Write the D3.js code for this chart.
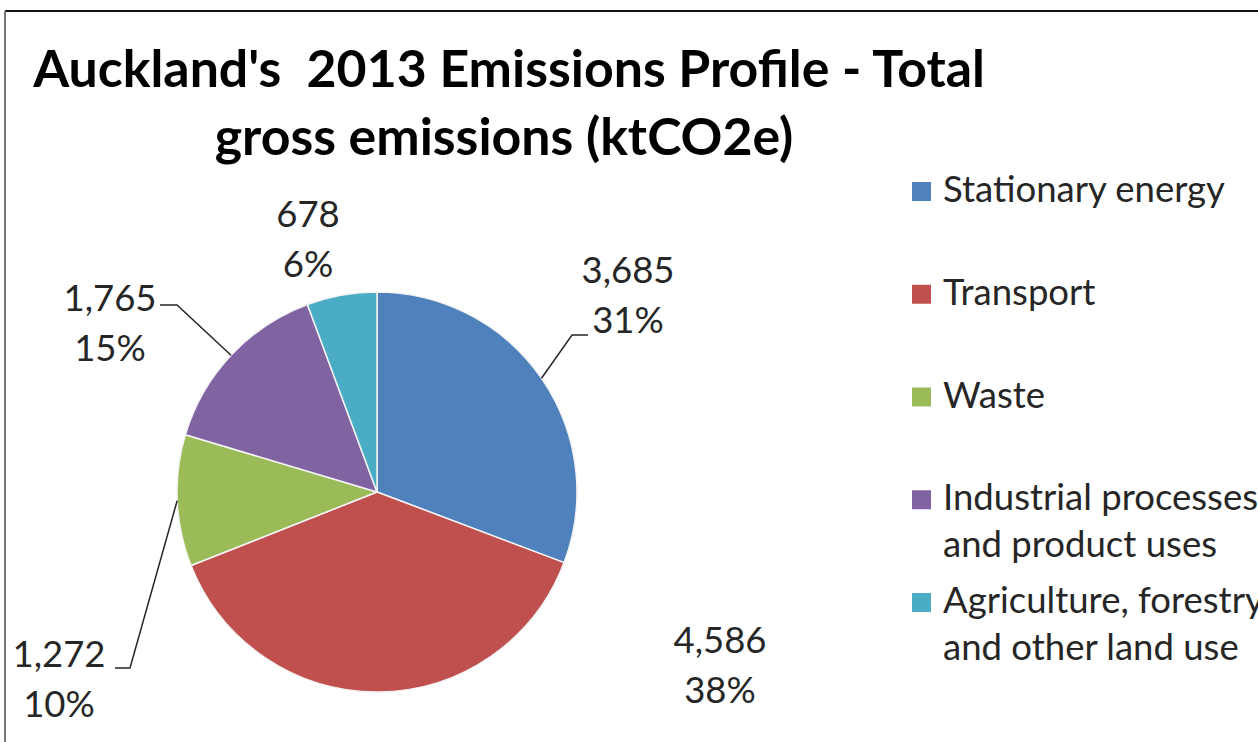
<!DOCTYPE html>
<html>
<head>
<meta charset="utf-8">
<script src="https://cdn.jsdelivr.net/npm/d3@7"></script>
<style>
  html, body { margin: 0; padding: 0; background: #fff; }
  svg { display: block; }
</style>
</head>
<body>
<svg id="chart" width="1258" height="742"></svg>
<script>
// ---- data ----
const categories = [
  "Stationary energy",
  "Transport",
  "Waste",
  "Industrial processes and product uses",
  "Agriculture, forestry and other land use"
];
const values = [3685, 4586, 1272, 1765, 678];
const percentLabels = ["31%", "38%", "10%", "15%", "6%"];
const legendLines = [
  ["Stationary energy"],
  ["Transport"],
  ["Waste"],
  ["Industrial processes", "and product uses"],
  ["Agriculture, forestry", "and other land use"]
];
const titleLines = ["Auckland's  2013 Emissions Profile - Total", "gross emissions (ktCO2e)"];

// ---- styling / layout ----
const colors = ["#4F81BD", "#C0504D", "#9BBB59", "#8064A2", "#4BACC6"];
const W = 1258, H = 742;
const cx = 377, cy = 492, radius = 200;
const fontFamily = "Lato, 'Open Sans', sans-serif";

// label anchor (centre x, first baseline) relative to pie centre, plus leader attach point relative to the label
const labelLayout = [
  { dx: 251, dy: -209, leader: { ex: -56, ey: 52, hx: -40 } },
  { dx: 343, dy: 161, leader: null },
  { dx: -318, dy: 175, leader: { ex: 71, ey: 1, hx: 56 } },
  { dx: -267, dy: -181, leader: { ex: 67, ey: -6, hx: 50 } },
  { dx: -69, dy: -265, leader: null }
];

const svg = d3.select("#chart");

// frame edges
svg.append("line").attr("x1", 5).attr("x2", W).attr("y1", 11).attr("y2", 11)
  .attr("stroke", "#111").attr("stroke-width", 2);
svg.append("line").attr("x1", 5).attr("x2", 5).attr("y1", 11).attr("y2", H)
  .attr("stroke", "#777").attr("stroke-width", 2);

function fitSize(sel, base, target) {
  sel.attr("font-size", base);
  const w = sel.node().getComputedTextLength();
  return base * target / w;
}

// ---- title ----
const t1 = svg.append("text").attr("x", 509).attr("y", 87)
  .attr("text-anchor", "middle").attr("font-family", fontFamily)
  .attr("font-weight", 700).attr("fill", "#000")
  .style("white-space", "pre").text(titleLines[0]);
const titleSize = fitSize(t1, 40, 952);
t1.attr("font-size", titleSize);
svg.append("text").attr("x", 504).attr("y", 155)
  .attr("text-anchor", "middle").attr("font-family", fontFamily)
  .attr("font-weight", 700).attr("fill", "#000")
  .attr("font-size", titleSize).text(titleLines[1]);

// ---- pie ----
const pie = d3.pie().sort(null).value(d => d)(values);
const arc = d3.arc().innerRadius(0).outerRadius(radius);
const g = svg.append("g").attr("transform", `translate(${cx},${cy})`);

g.selectAll("path.slice").data(pie).join("path")
  .attr("class", "slice")
  .attr("d", arc)
  .attr("fill", (d, i) => colors[i])
  .attr("stroke", "#f4f4f4")
  .attr("stroke-width", 1.5)
  .attr("stroke-linejoin", "round");

// ---- data labels ----
const fmt = d3.format(",");
const labelG = g.append("g");
const probe = labelG.append("text").attr("font-family", fontFamily).text(fmt(values[0]));
const labelSize = fitSize(probe, 36, 93);
probe.remove();

pie.forEach((d, i) => {
  const L = labelLayout[i];
  const t = labelG.append("text")
    .attr("text-anchor", "middle")
    .attr("font-family", fontFamily)
    .attr("font-size", labelSize)
    .attr("fill", "#262626");
  t.append("tspan").attr("x", L.dx).attr("y", L.dy).text(fmt(d.value));
  t.append("tspan").attr("x", L.dx).attr("y", L.dy + 50).text(percentLabels[i]);

  if (L.leader) {
    const mid = (d.startAngle + d.endAngle) / 2;
    const sx = Math.sin(mid) * radius, sy = -Math.cos(mid) * radius;
    const ex = L.dx + L.leader.ex, ey = L.dy + L.leader.ey;
    const hx = L.dx + L.leader.hx;
    labelG.append("path")
      .attr("d", d3.line()([[sx, sy], [ex, ey], [hx, ey]]))
      .attr("fill", "none")
      .attr("stroke", "#262626")
      .attr("stroke-width", 1.5);
  }
});

// ---- legend ----
const legend = svg.append("g").attr("transform", "translate(912,202)");
const lp = legend.append("text").attr("font-family", fontFamily).text(legendLines[0][0]);
const legendSize = fitSize(lp, 30, 282);
lp.remove();
const rowStep = 102.75, lineStep = 47, sw = 19;

legendLines.forEach((lines, i) => {
  const row = legend.append("g").attr("transform", `translate(0,${i * rowStep})`);
  row.append("rect").attr("x", 0).attr("y", -20).attr("width", sw).attr("height", sw)
    .attr("fill", colors[i]);
  const t = row.append("text").attr("font-family", fontFamily)
    .attr("font-size", legendSize).attr("fill", "#262626");
  lines.forEach((ln, j) => {
    t.append("tspan").attr("x", 31).attr("y", j * lineStep).text(ln);
  });
});
</script>
</body>
</html>
